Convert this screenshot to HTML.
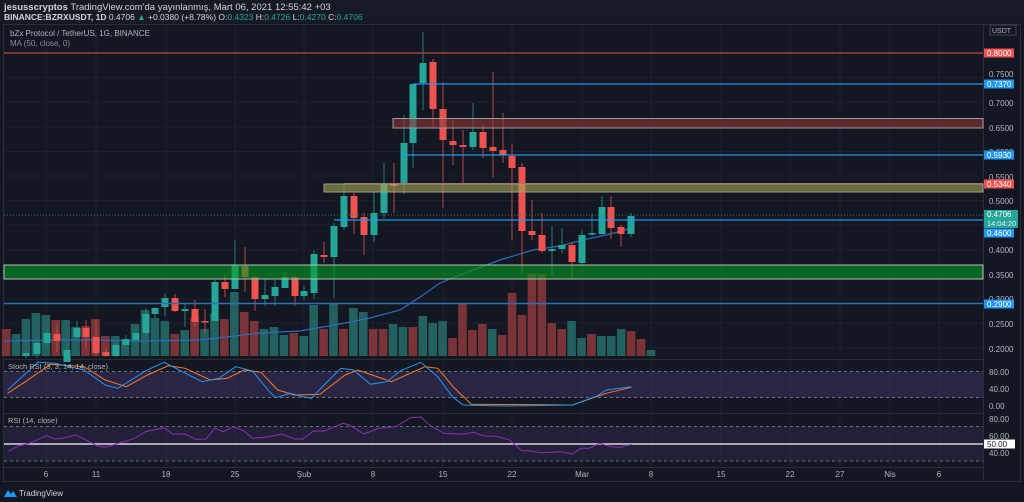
<!DOCTYPE html>
<html><head><meta charset="utf-8"><style>
html,body{margin:0;padding:0;background:#131722;width:1024px;height:502px;overflow:hidden;font-family:"Liberation Sans",sans-serif}
svg{display:block}
</style></head><body>
<svg id="s" width="1024" height="502" xmlns="http://www.w3.org/2000/svg" font-family="Liberation Sans, sans-serif">
<rect width="1024" height="502" fill="#131722"/>
<rect x="0" y="0" width="1024" height="23" fill="#161a25"/>
<text x="4" y="10" font-size="9.5" fill="#d1d4dc"><tspan font-weight="bold">jesusscryptos</tspan> TradingView.com'da yayınlanmış, Mart 06, 2021 12:55:42 +03</text>
<text x="4" y="20" font-size="8.5" fill="#d1d4dc"><tspan font-weight="bold">BINANCE:BZRXUSDT, 1D</tspan> 0.4706 <tspan fill="#26a69a">▲</tspan> +0.0380 (+8.78%) O:<tspan fill="#26a69a">0.4323</tspan> H:<tspan fill="#26a69a">0.4726</tspan> L:<tspan fill="#26a69a">0.4270</tspan> C:<tspan fill="#26a69a">0.4706</tspan></text>
<rect x="3.5" y="24.5" width="1017" height="457" fill="none" stroke="#2a2e39"/>
<line x1="983.5" y1="24" x2="983.5" y2="482" stroke="#2a2e39"/>
<line x1="3" y1="359.5" x2="983" y2="359.5" stroke="#2a2e39"/>
<line x1="3" y1="413.5" x2="983" y2="413.5" stroke="#2a2e39"/>
<line x1="3" y1="467.5" x2="983" y2="467.5" stroke="#2a2e39"/>
<g id="grid"></g>
<g id="vol"></g>
<g id="ma"></g>
<g id="cand"></g>
<g id="lev"></g>
<g id="ind"></g>
<g id="axis" font-size="8" fill="#b2b5be"></g>
<text x="10" y="36" font-size="8" fill="#b2b5be">bZx Protocol / TetherUS, 1G, BINANCE</text>
<text x="10" y="46" font-size="8" fill="#8a8e99">MA (50, close, 0)</text>
<text x="8" y="369" font-size="7.5" fill="#b2b5be">Stoch RSI (3, 3, 14, 14, close)</text>
<text x="8" y="423" font-size="7.5" fill="#b2b5be">RSI (14, close)</text>
<path d="M4 497 l4 -7 l3 4 l2 -3 l4 6 z" fill="#2196f3"/>
<text x="19" y="496" font-size="8" fill="#d1d4dc">TradingView</text>
</svg>
<script>
const NS="http://www.w3.org/2000/svg";
function el(p,t,a,txt){const e=document.createElementNS(NS,t);for(const k in a)e.setAttribute(k,a[k]);if(txt!==undefined)e.textContent=txt;document.getElementById(p).appendChild(e);return e;}
// grid
[46,96,166,235,304,373,443,512,582,651,721,790,840,890,939].forEach(x=>el('grid','line',{x1:x,y1:25,x2:x,y2:467,stroke:'#1c2030'}));
[53,77.6,102,127,151.5,176,200.6,225,250,274,299,323,348].forEach(y=>el('grid','line',{x1:4,y1:y,x2:983,y2:y,stroke:'#1c2030'}));
// volume
const TV='#22615d',RV='#7a3438';
const vols=[['r',329],['t',334],['t',319],['t',313],['t',315],['r',320],['t',320],['t',327],['r',326],['r',319],['r',336],['t',336],['t',339],['t',324],['t',310],['t',318],['t',321],['r',334],['t',330],['r',317],['t',329],['t',313],['r',319],['t',292],['r',312],['r',321],['t',329],['t',327],['t',335],['r',333],['t',336],['t',305],['r',329],
['t',304],['r',329],['t',308],['t',312],['r',329],['r',329],['t',324],['t',327],['r',327],['t',316],['t',323],['t',321],['r',338],['r',304],['r',330],['r',324],['t',329],['r',335],['r',293],['r',315],['r',274],['r',274],['r',323],['r',329],['t',321],['t',338],['r',334],['t',336],['t',336],['t',329],['r',331],['r',339],['t',350]];
function cx(k){return 26+9.92*k;}
vols.forEach((v,i)=>{const x=cx(i-2);const w=8.6;el('vol','rect',{x:x-w/2,y:v[1],width:w,height:356-v[1],fill:v[0]=='t'?TV:RV});});
// MA
el('ma','polyline',{points:'4,341 60,340 100,340 140,341 200,340 260,333 300,331 340,324 370,318 400,310 420,297 440,283 470,271 500,260 533,250 560,246 583,240 610,234 633,228',fill:'none',stroke:'#2b6cc4','stroke-width':1.2});
// candles [x, high, open, close, low] y px
const C=[
[26,350,356,353,358],[37,337,354,343,358],[47,330,343,333,347],[57,324,334,341,352],[67,344,362,350,358],[77,321,337,328,339],[86,320,328,337,348],[96,320,337,353,356],[106,348,352,356,357],[116,343,356,345,357],[126,335,345,339,348],[136,330,340,333,342],[146,308,333,314,336],[155,307,314,308,318],[165,293,307,298,316],[175,294,298,311,312],[185,303,311,309,327],[195,300,309,322,327],[205,309,321,321,333],[215,280,321,282,322],[225,275,282,289,297],[235,240,289,265,289],[245,247,266,277,292],[255,277,277,299,311],[265,279,299,295,306],[275,280,296,287,306],[285,272,288,277,288],[295,276,277,296,306],[304,286,296,291,300],[314,250,293,254,299],[324,242,255,257,263],[334,223,257,226,298],
[344,185,227,196,230],[354,193,196,218,234],[364,213,217,235,255],[374,192,235,213,242],[384,163,213,184,218],[394,163,184,186,213],[404,115,184,143,194],[413,85,143,84,168],[423,32,83,63,110],[433,59,62,109,127],[443,82,109,140,208],[453,120,141,145,165],[463,130,145,147,184],[473,103,147,132,150],[483,124,132,148,158],[493,72,147,151,178],[503,113,150,155,163],[512,144,156,168,240],[522,163,167,231,273],[532,200,231,235,240],[542,213,235,251,253],[552,226,251,249,275],[562,228,249,245,253],[572,242,245,262,278],[582,230,263,235,265],[592,214,234,233,236],[602,196,234,207,234],[611,196,207,228,239],[621,225,227,234,247],[631,213,234,216,237]];
C.forEach(c=>{const[x,h,o,cl,l]=c;const up=cl<o;const col=up?'#26a69a':'#ef5350';const wc=up?'#2b7d74':'#b5474a';
el('cand','line',{x1:x,y1:h,x2:x,y2:l,stroke:wc,'stroke-width':1});
const t=Math.min(o,cl),b=Math.max(o,cl);el('cand','rect',{x:x-3.5,y:t,width:7,height:Math.max(1.5,b-t),fill:col});});
// levels
el('lev','line',{x1:4,y1:53,x2:983,y2:53,stroke:'#c8443f','stroke-width':1.3});
el('lev','line',{x1:413,y1:84,x2:983,y2:84,stroke:'#2196f3','stroke-width':1.3});
el('lev','rect',{x:393,y:118.5,width:590,height:9.5,fill:'rgba(141,55,54,0.6)',stroke:'#9a9ca4','stroke-width':1});
el('lev','line',{x1:405,y1:155,x2:983,y2:155,stroke:'#2196f3','stroke-width':1.2});
el('lev','line',{x1:344,y1:183.5,x2:983,y2:183.5,stroke:'#b5474a','stroke-width':1});
el('lev','rect',{x:324,y:184,width:659,height:8,fill:'rgba(166,161,74,0.6)',stroke:'#9a9ca4','stroke-width':1});
el('lev','line',{x1:4,y1:215,x2:983,y2:215,stroke:'#3a7a74','stroke-width':1,'stroke-dasharray':'1,2'});
el('lev','line',{x1:334,y1:220,x2:983,y2:220,stroke:'#2196f3','stroke-width':1.3});
el('lev','rect',{x:4,y:265,width:979,height:14,fill:'rgba(5,155,30,0.6)',stroke:'#b8bcc2','stroke-width':1});
el('lev','line',{x1:4,y1:303.5,x2:983,y2:303.5,stroke:'#2f6fb8','stroke-width':1.5});
// indicators
el('ind','rect',{x:4,y:371.5,width:979,height:26,fill:'rgba(126,87,194,0.22)'});
[371.5,397.5].forEach(y=>el('ind','line',{x1:4,y1:y,x2:983,y2:y,stroke:'#6b6f7c','stroke-dasharray':'3,3'}));
el('ind','rect',{x:4,y:426.5,width:979,height:34.5,fill:'rgba(126,87,194,0.14)'});
[426.5,461].forEach(y=>el('ind','line',{x1:4,y1:y,x2:983,y2:y,stroke:'#6b6f7c','stroke-dasharray':'3,3'}));
el('ind','line',{x1:4,y1:444,x2:983,y2:444,stroke:'#d8d9dd','stroke-width':1.5});
function pts(a){let s='';for(let i=0;i<a.length;i+=2)s+=(a[i]/2.376).toFixed(1)+','+(355+a[i+1]/3).toFixed(1)+' ';return s;}
el('ind','polyline',{points:pts([18,115,60,80,120,28,200,35,250,75,300,95,350,60,400,32,440,40,500,75,540,70,580,45,620,52,660,105,700,120,760,118,820,60,850,45,930,80,1010,35,1040,40,1080,100,1120,148,1360,150,1440,115,1500,97]),fill:'none',stroke:'#f57c1f','stroke-width':1});
el('ind','polyline',{points:pts([18,105,90,22,130,25,200,45,250,90,280,100,350,45,390,22,430,48,480,80,520,70,560,35,600,48,640,110,655,128,690,115,720,125,740,130,770,90,810,40,840,45,880,88,920,80,950,48,1000,22,1040,65,1075,125,1100,150,1200,153,1360,150,1420,122,1440,105,1500,95]),fill:'none',stroke:'#2196f3','stroke-width':1});
el('ind','polyline',{points:pts([18,290,45,272,70,265,110,242,130,252,150,250,180,240,200,252,230,272,250,277,300,258,320,250,345,230,390,218,410,237,440,237,465,253,490,252,510,220,530,230,555,215,580,228,600,250,630,247,670,237,700,252,720,252,745,228,770,228,815,205,830,210,865,237,900,220,940,215,975,188,1000,186,1020,210,1055,235,1100,238,1125,232,1150,243,1180,244,1210,255,1240,287,1260,287,1285,293,1310,292,1335,290,1360,297,1380,280,1400,280,1425,265,1450,275,1475,277,1500,268]),fill:'none',stroke:'#8e2fb5','stroke-width':1});
// axis labels
[['0.7500',74],['0.7000',103],['0.6500',128],['0.6000',152],['0.5500',177],['0.5000',201],['0.4000',250],['0.3500',275],['0.3000',299],['0.2500',324],['0.2000',349],['80.00',372],['40.00',389],['0.00',406],['80.00',419],['60.00',436],['40.00',453]].forEach(a=>el('axis','text',{x:989,y:a[1]+3},a[0]));
el('axis','rect',{x:990,y:25,width:26,height:10,fill:'#131722',stroke:'#434651'});
el('axis','text',{x:992,y:33,'font-size':7},'USDT');
function tag(y,txt,bg,fg,h){el('axis','rect',{x:984,y:y-h/2,width:30,height:h,fill:bg});el('axis','text',{x:987,y:y+3,fill:fg||'#fff'},txt);}
tag(53,'0.8000','#ef5350',null,9);tag(84,'0.7370','#2196f3',null,9);tag(155,'0.5930','#2196f3',null,9);tag(184,'0.5340','#ef5350',null,9);
el('axis','rect',{x:984,y:210,width:34,height:18,fill:'#26a69a'});
el('axis','text',{x:987,y:217,fill:'#fff'},'0.4706');el('axis','text',{x:987,y:226,fill:'#e0f2f1','font-size':7.5},'14:04:20');
tag(233,'0.4600','#2196f3',null,9);tag(304,'0.2900','#2196f3',null,9);
el('axis','rect',{x:984,y:439.5,width:31,height:9,fill:'#fff'});el('axis','text',{x:987,y:447,fill:'#131722'},'50.00');
[['6',46],['11',96],['18',166],['25',235],['Şub',304],['8',373],['15',443],['22',512],['Mar',582],['8',651],['15',721],['22',790],['27',840],['Nis',890],['6',939]].forEach(a=>el('axis','text',{x:a[1],y:477,'text-anchor':'middle'},a[0]));
</script>
</body></html>
